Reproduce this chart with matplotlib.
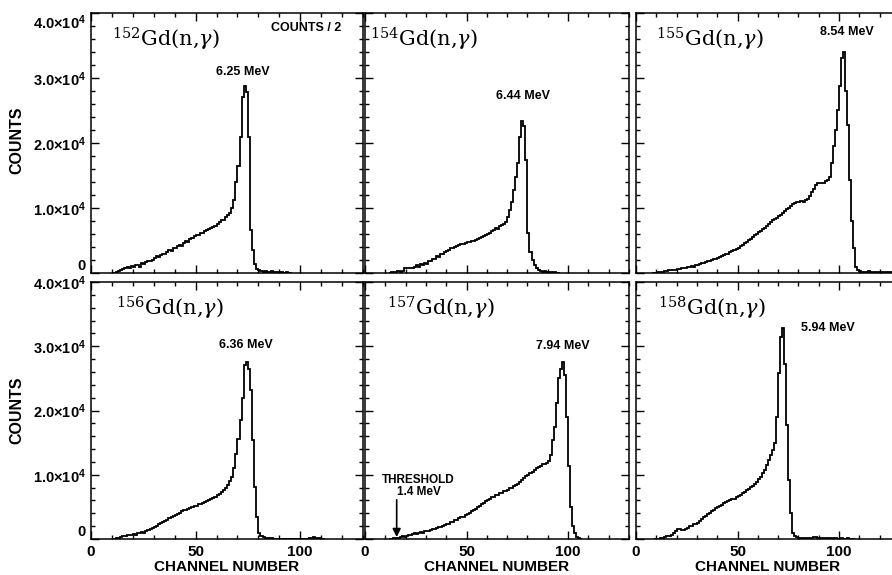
import numpy as np
import matplotlib
matplotlib.use("Agg")
import matplotlib.pyplot as plt
from matplotlib.ticker import MultipleLocator

plt.rcParams['font.family'] = ['Liberation Sans', 'DejaVu Sans']
plt.rcParams['font.weight'] = 'normal'
plt.rcParams['mathtext.fontset'] = 'custom'
plt.rcParams['mathtext.rm'] = 'Liberation Sans:bold'
plt.rcParams['mathtext.it'] = 'Liberation Sans:bold'
plt.rcParams['mathtext.bf'] = 'Liberation Sans:bold'

# spectra: counts per channel (in units of 1000), first channel given separately
isotopes = ['152', '154', '155', '156', '157', '158']
peak_labels = ['6.25 MeV', '6.44 MeV', '8.54 MeV', '6.36 MeV', '7.94 MeV', '5.94 MeV']

start_152 = 10
counts_152 = [0.0, 0.0, 0.1, 0.3, 0.5, 0.6, 0.7, 0.9, 0.8, 1.1,
              0.9, 1.2, 1.3, 1.0, 1.5, 1.4, 1.7, 1.9, 1.8, 2.0,
              2.3, 2.6, 2.4, 2.8, 3.0, 2.9, 3.3, 3.5, 3.4, 3.8,
              3.8, 4.1, 4.3, 4.2, 4.6, 4.9, 4.8, 5.2, 5.4, 5.7,
              5.8, 5.9, 6.1, 6.2, 6.4, 6.6, 6.8, 7.0, 7.1, 7.3,
              7.6, 7.9, 8.2, 8.2, 8.6, 9.0, 9.3, 10.0, 11.2, 14.0,
              16.4, 21.0, 27.1, 28.8, 27.8, 21.0, 6.6, 3.5, 1.4, 0.6,
              0.4, 0.3, 0.2, 0.3, 0.2, 0.2, 0.3, 0.1, 0.2, 0.1,
              0.1, 0.1, 0.05, 0.1, 0.05, 0.0]

start_154 = 12
counts_154 = [0.0, 0.1, 0.2, 0.2, 0.3, 0.2, 0.3, 0.7, 0.8, 0.7,
              0.8, 0.7, 0.9, 1.2, 1.0, 1.4, 1.2, 1.6, 1.4, 1.9,
              1.8, 2.2, 2.1, 2.6, 2.5, 2.9, 3.0, 3.3, 3.4, 3.6,
              3.8, 3.9, 4.0, 4.1, 4.3, 4.4, 4.5, 4.6, 4.7, 4.8,
              4.9, 5.0, 5.1, 5.3, 5.4, 5.6, 5.7, 5.9, 6.0, 6.2,
              6.4, 6.6, 6.9, 6.8, 7.2, 7.4, 7.6, 7.9, 8.6, 9.7,
              11.0, 12.8, 14.8, 16.9, 21.0, 23.4, 22.6, 17.4, 6.1, 3.2,
              2.0, 1.2, 0.8, 0.5, 0.3, 0.2, 0.3, 0.2, 0.1, 0.2,
              0.1, 0.1, 0.05, 0.0]

start_155 = 8
counts_155 = [0.0, 0.05, 0.05, 0.1, 0.2, 0.2, 0.3, 0.3, 0.4, 0.4,
              0.5, 0.5, 0.6, 0.6, 0.7, 0.7, 0.8, 0.9, 0.9, 1.1,
              1.0, 1.2, 1.3, 1.4, 1.5, 1.6, 1.7, 1.8, 1.9, 2.0,
              2.1, 2.2, 2.3, 2.4, 2.6, 2.7, 2.9, 3.0, 3.2, 3.4,
              3.5, 3.7, 3.9, 4.1, 4.3, 4.6, 4.8, 5.1, 5.3, 5.6,
              5.8, 6.0, 6.3, 6.5, 6.8, 7.0, 7.3, 7.6, 7.8, 8.1,
              8.3, 8.5, 8.8, 9.0, 9.3, 9.5, 9.8, 10.0, 10.3, 10.6,
              10.8, 11.0, 11.0, 11.1, 11.0, 11.2, 11.4, 11.8, 12.4, 13.0,
              13.6, 13.8, 13.8, 13.9, 13.8, 14.1, 14.3, 14.8, 16.9, 19.5,
              22.0, 25.0, 28.7, 33.0, 34.0, 28.0, 22.8, 14.3, 8.0, 3.8,
              1.0, 0.4, 0.3, 0.2, 0.2, 0.2, 0.25, 0.2, 0.2, 0.2,
              0.2, 0.15, 0.2, 0.15, 0.15, 0.1, 0.15, 0.1, 0.1, 0.1,
              0.1, 0.1]

start_156 = 10
counts_156 = [0.0, 0.05, 0.1, 0.2, 0.3, 0.4, 0.5, 0.6, 0.6, 0.7,
              0.8, 0.7, 0.9, 1.0, 1.1, 0.9, 1.3, 1.4, 1.6, 1.7,
              1.9, 2.1, 2.4, 2.5, 2.6, 2.8, 3.0, 3.2, 3.4, 3.6,
              3.7, 3.9, 4.1, 4.3, 4.5, 4.5, 4.7, 4.9, 5.0, 5.1,
              5.2, 5.4, 5.5, 5.6, 5.8, 5.9, 6.1, 6.2, 6.4, 6.6,
              6.8, 7.0, 7.3, 7.6, 7.9, 8.4, 9.0, 9.7, 11.0, 13.3,
              15.5, 18.5, 21.9, 27.1, 27.6, 26.5, 23.2, 15.4, 8.1, 3.5,
              0.9, 0.5, 0.3, 0.2, 0.15, 0.1, 0.1, 0.05, 0.05, 0.05,
              0.05, 0.05, 0.0, 0.0, 0.05, 0.05, 0.0, 0.0, 0.0, 0.0,
              0.0, 0.0, 0.0, 0.05, 0.1, 0.2, 0.25, 0.2, 0.15, 0.1,
              0.05, 0.0]

start_157 = 12
counts_157 = [0.0, 0.05, 0.1, 0.1, 0.2, 0.3, 0.4, 0.3, 0.5, 0.7,
              0.6, 0.8, 0.9, 0.8, 1.0, 1.1, 1.0, 1.2, 1.3, 1.2,
              1.4, 1.5, 1.6, 1.7, 1.9, 1.8, 2.1, 2.2, 2.3, 2.4,
              2.6, 2.7, 2.9, 3.0, 3.2, 3.4, 3.5, 3.7, 3.9, 4.1,
              4.3, 4.5, 4.7, 5.0, 5.2, 5.4, 5.6, 5.9, 6.1, 6.3,
              6.5, 6.6, 6.8, 6.9, 7.1, 7.2, 7.4, 7.5, 7.7, 7.9,
              8.0, 8.2, 8.4, 8.6, 8.9, 9.2, 9.5, 9.8, 10.0, 10.3,
              10.5, 10.8, 11.0, 11.2, 11.4, 11.6, 11.7, 11.9, 12.2, 13.0,
              15.4, 17.5, 21.1, 25.0, 26.5, 27.6, 25.5, 19.0, 11.3, 5.0,
              2.0, 0.9, 0.3, 0.1, 0.0]

start_158 = 9
counts_158 = [0.0, 0.05, 0.05, 0.1, 0.2, 0.3, 0.4, 0.5, 0.7, 1.0,
              1.2, 1.5, 1.5, 1.4, 1.4, 1.5, 1.7, 2.0, 2.1, 2.3,
              2.4, 2.5, 2.8, 3.1, 3.4, 3.6, 3.9, 4.1, 4.3, 4.5,
              4.8, 5.0, 5.2, 5.3, 5.6, 5.7, 5.9, 6.0, 6.2, 6.3,
              6.5, 6.7, 6.9, 7.1, 7.3, 7.6, 7.8, 8.1, 8.3, 8.6,
              8.9, 9.3, 9.7, 10.2, 10.8, 11.5, 12.3, 13.0, 13.8, 14.9,
              19.0, 25.8, 31.5, 32.9, 27.3, 17.7, 9.2, 4.0, 1.0, 0.4,
              0.3, 0.2, 0.2, 0.15, 0.15, 0.2, 0.15, 0.2, 0.25, 0.3,
              0.2, 0.15, 0.1, 0.1, 0.15, 0.1, 0.1, 0.05, 0.1, 0.1,
              0.05, 0.05, 0.1, 0.05, 0.05, 0.1, 0.05, 0.05, 0.0]

starts = [start_152, start_154, start_155, start_156, start_157, start_158]
counts = [counts_152, counts_154, counts_155, counts_156, counts_157, counts_158]

# label anchors (channel, counts)
peak_label_pos = [(72.5, 30500), (77.9, 26700), (104.0, 36600),
                  (74.2, 29700), (97.2, 29500), (94.4, 32300)]
title_x = [10.0, 2.5, 10.0, 12.0, 11.0, 11.0]
title_y = 34800

xtick_vals = [0, 50, 100]
xtick_labels = ['0', '50', '100']
ytick_vals = [0, 1e4, 2e4, 3e4, 4e4]
ytick_labels = ['0', r'$1.0{\times}10^{4}$', r'$2.0{\times}10^{4}$',
                r'$3.0{\times}10^{4}$', r'$4.0{\times}10^{4}$']

W, H = 892, 575
col_px = [(91, 272), (365, 264), (636, 264)]
row_px = [(13, 260), (282, 257)]

fig = plt.figure(figsize=(W / 100, H / 100), dpi=100)

for i, iso in enumerate(isotopes):
    r, c = divmod(i, 3)
    left, w = col_px[c]
    top, h = row_px[r]
    ax = fig.add_axes([left / W, 1 - (top + h) / H, w / W, h / H])

    vals = np.array(counts[i]) * 1000
    edges = np.arange(starts[i], starts[i] + len(vals) + 1)
    ax.stairs(vals, edges, color='black', lw=1.3, baseline=None)

    ax.set_xlim(0, 130)
    ax.set_ylim(0, 4e4)
    ax.set_xticks(xtick_vals, labels=xtick_labels, fontweight='bold')
    ax.set_yticks(ytick_vals, labels=ytick_labels, fontweight='bold')
    ax.xaxis.set_minor_locator(MultipleLocator(10))
    ax.yaxis.set_minor_locator(MultipleLocator(2e3))
    ax.tick_params(which='both', direction='in', top=True, right=True,
                   width=1.0, colors='black')
    ax.tick_params(which='major', length=6)
    ax.tick_params(which='minor', length=3)
    ax.tick_params(axis='x', labelsize=11, pad=4)
    ax.tick_params(axis='y', labelsize=10.5, pad=4)
    for sp in ax.spines.values():
        sp.set_linewidth(1.1)

    if c == 0:
        tl = ax.get_yticklabels()
        tl[0].set_va('bottom')
        if r == 0:
            tl[-1].set_va('top')
    else:
        ax.tick_params(labelleft=False)
    if r == 0:
        ax.tick_params(labelbottom=False)
    else:
        ax.set_xlabel('CHANNEL NUMBER', fontsize=11, fontweight='bold', labelpad=1)

    ax.text(title_x[i], title_y, r'$^{%s}\mathrm{Gd(n{,}}\gamma\mathrm{)}$' % iso,
            fontsize=15, math_fontfamily='dejavuserif', ha='left', va='baseline')
    px, py = peak_label_pos[i]
    ax.text(px, py, peak_labels[i], ha='center', va='baseline',
            fontsize=9, fontweight='bold')

    if iso == '152':
        ax.text(103, 37300, 'COUNTS / 2', ha='center', va='baseline',
                fontsize=9, fontweight='bold')
    if iso == '157':
        ax.text(26.4, 6850, 'THRESHOLD\n1.4 MeV', ha='center', va='baseline',
                multialignment='center', linespacing=0.95,
                fontsize=8.5, fontweight='bold')
        ax.annotate('', xy=(15.6, 300), xytext=(15.6, 6100),
                    arrowprops=dict(arrowstyle='-|>', color='black', lw=1.2,
                                    mutation_scale=12, shrinkA=0, shrinkB=0))

for yc in [140, 410]:
    fig.text(17 / W, 1 - yc / H, 'COUNTS', rotation=90, ha='center', va='center',
             fontsize=11.5, fontweight='bold')

fig.savefig('out.png', dpi=100, facecolor='white')
